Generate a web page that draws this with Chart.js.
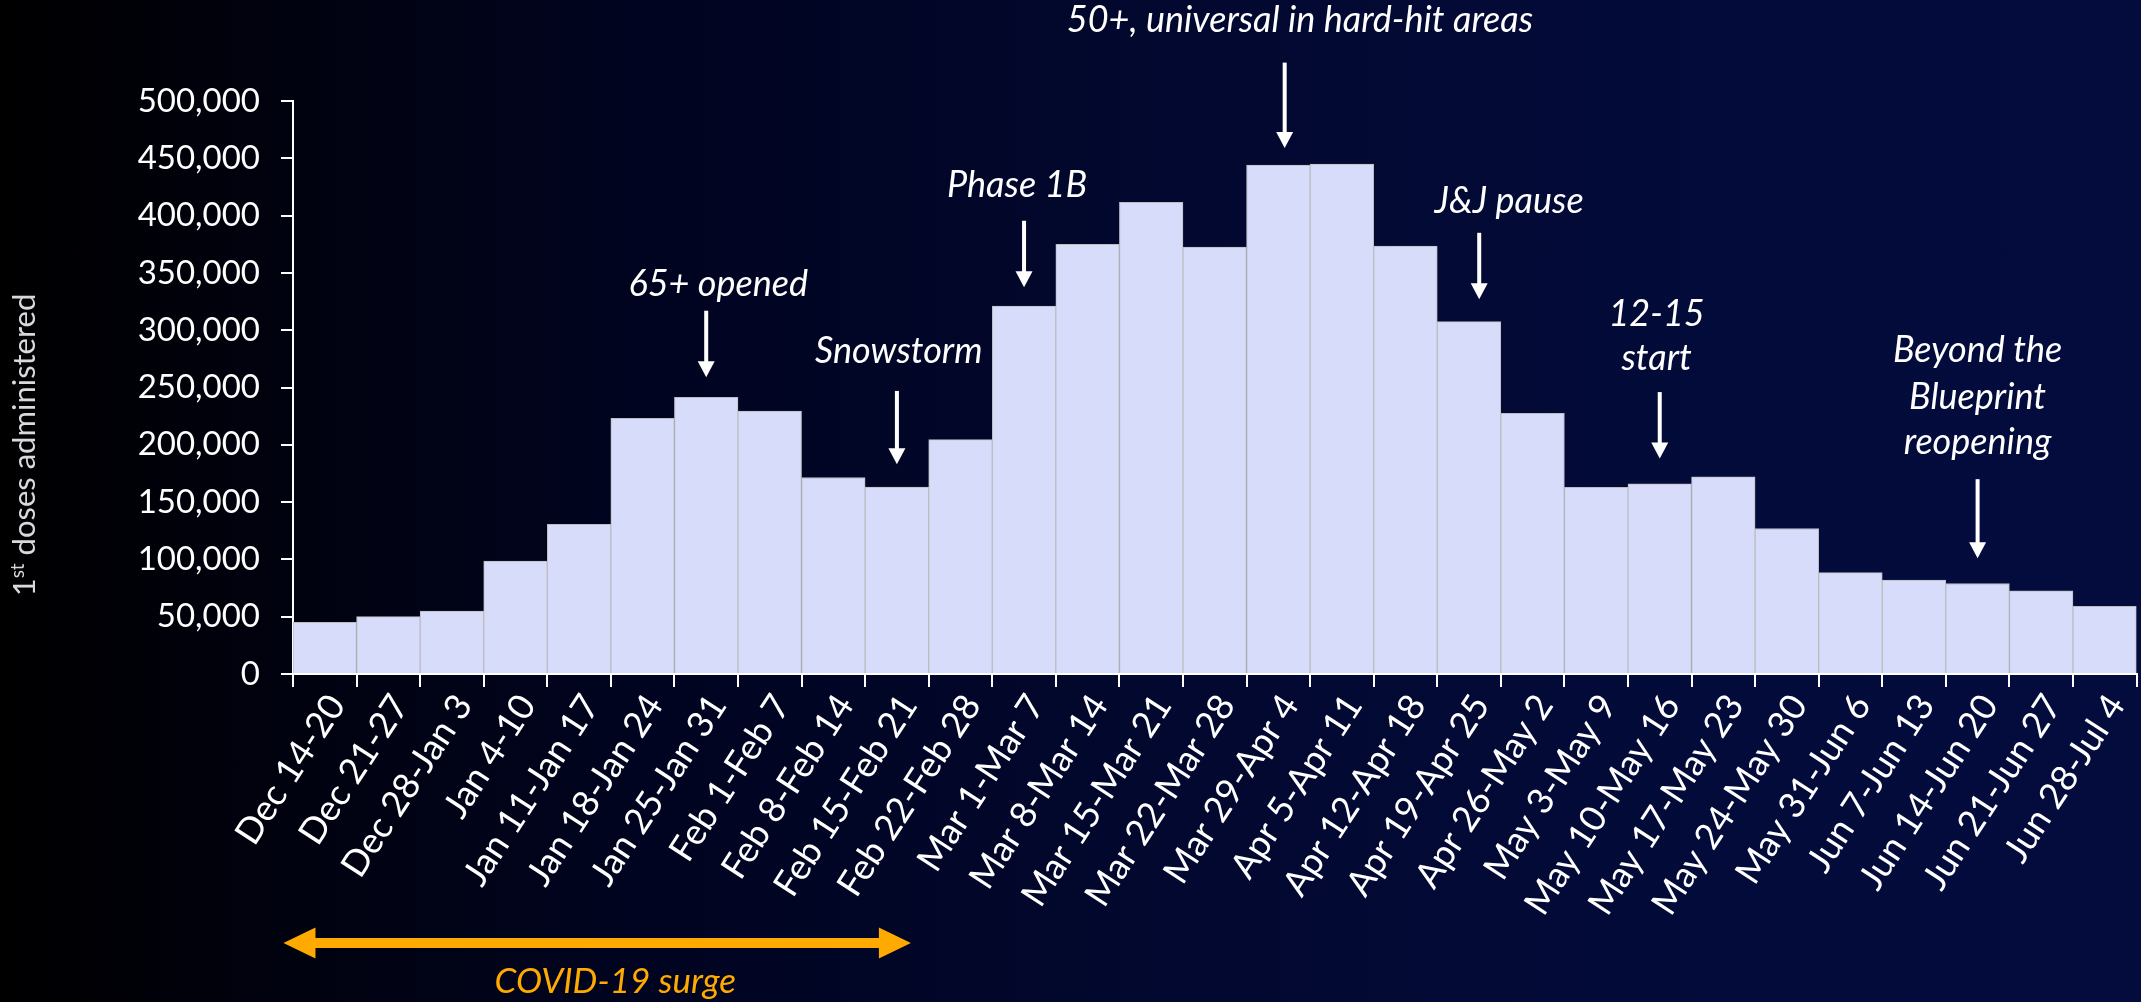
<!DOCTYPE html>
<html><head><meta charset="utf-8">
<script src="https://cdn.jsdelivr.net/npm/chart.js@4.4.1/dist/chart.umd.min.js"></script>
<style>
html,body{margin:0;padding:0;background:#000;}
#wrap{position:relative;width:2141px;height:1002px;background:linear-gradient(90deg,#000001 0%,#010420 30%,#02082f 55%,#030b3a 80%,#030c3d 100%);}
canvas{display:block}
</style></head><body>
<div id="wrap"><canvas id="c"></canvas></div>
<script>
// ---- data ----
const weeks = ['Dec 14-20','Dec 21-27','Dec 28-Jan 3','Jan 4-10','Jan 11-Jan 17','Jan 18-Jan 24','Jan 25-Jan 31',
  'Feb 1-Feb 7','Feb 8-Feb 14','Feb 15-Feb 21','Feb 22-Feb 28','Mar 1-Mar 7','Mar 8-Mar 14','Mar 15-Mar 21',
  'Mar 22-Mar 28','Mar 29-Apr 4','Apr 5-Apr 11','Apr 12-Apr 18','Apr 19-Apr 25','Apr 26-May 2','May 3-May 9',
  'May 10-May 16','May 17-May 23','May 24-May 30','May 31-Jun 6','Jun 7-Jun 13','Jun 14-Jun 20','Jun 21-Jun 27','Jun 28-Jul 4'];
const firstDoses = [45000,50000,55000,98500,130500,223000,241500,229500,171500,163000,204500,321000,375000,411500,
  372500,444000,445000,373500,307500,227500,162800,166000,172000,127000,88500,82000,79000,72500,59000];
const yTicks = [0,50000,100000,150000,200000,250000,300000,350000,400000,450000,500000];
const yTitle = ['1','st',' doses administered'];
// annotation labels: category index of arrow/text, arrow top & tip values, text line values
const noteText = [['65+ opened'],['Snowstorm'],['Phase 1B'],['50+, universal in hard-hit areas'],['J&J pause'],['12-15','start'],['Beyond the','Blueprint','reopening']];
const noteAt   = [6, 9, 11, 15.1, 18.16, 21, 26];
const noteTextAt = [6.19, 9.03, 10.89, 15.34, 18.63, 20.95, 26];
const noteTop  = [317000, 247000, 395500, 533500, 385000, 246000, 170000];
const noteTip  = [259000, 183000, 337500, 459000, 327000, 188000, 101000];
const noteY    = [[340000],[281500],[426000],[570000],[412000],[314000,275000],[282000,241700,202000]];
const surgeLabel = 'COVID-19 surge';
const surgeFrom = -0.65, surgeTo = 9.22, surgeTextAt = 4.57;

// ---- plugins ----
const FONT = 'Lato, "Open Sans", sans-serif';
const yTitlePlugin = {
  id:'yTitle',
  afterDraw(chart){
    const ctx = chart.ctx; ctx.save();
    const big = '31px ' + FONT, small = '19px ' + FONT;
    ctx.font = big; const w1 = ctx.measureText(yTitle[0]).width, w3 = ctx.measureText(yTitle[2]).width;
    ctx.font = small; const w2 = ctx.measureText(yTitle[1]).width;
    const total = w1 + w2 + w3;
    ctx.translate(24, 445); ctx.rotate(-Math.PI/2);
    ctx.fillStyle = '#d9d9d9'; ctx.textBaseline = 'alphabetic'; ctx.textAlign = 'left';
    let x = -total/2; const base = 11;
    ctx.font = big; ctx.fillText(yTitle[0], x, base); x += w1;
    ctx.font = small; ctx.fillText(yTitle[1], x, base - 11); x += w2;
    ctx.font = big; ctx.fillText(yTitle[2], x, base);
    ctx.restore();
  }
};
const notesPlugin = {
  id:'notes',
  afterDraw(chart){
    const ctx = chart.ctx, xs = chart.scales.x, ys = chart.scales.y;
    ctx.save();
    ctx.fillStyle = '#ffffff'; ctx.strokeStyle = '#ffffff';
    noteText.forEach((lines, i) => {
      const x = xs.getPixelForValue(noteAt[i]);
      const yTop = ys.getPixelForValue(noteTop[i]);
      const yTip = ys.getPixelForValue(noteTip[i]);
      const head = 16, hw = 8.5;
      ctx.fillRect(x - 2, yTop, 4, yTip - head - yTop + 1);
      ctx.beginPath(); ctx.moveTo(x - hw, yTip - head); ctx.lineTo(x + hw, yTip - head); ctx.lineTo(x, yTip); ctx.closePath(); ctx.fill();
      ctx.font = 'italic 36px ' + FONT; ctx.textAlign = 'center'; ctx.textBaseline = 'middle';
      const tx = xs.getPixelForValue(noteTextAt[i]);
      lines.forEach((t, j) => ctx.fillText(t, tx, ys.getPixelForValue(noteY[i][j])));
    });
    // COVID-19 surge double arrow
    const ca = chart.chartArea;
    const x0 = xs.getPixelForValue(surgeFrom), x1 = xs.getPixelForValue(surgeTo);
    const yc = ca.bottom + 269, hl = 32, hh = 15.5, sh = 5;
    ctx.fillStyle = '#ffaa00';
    ctx.beginPath();
    ctx.moveTo(x0, yc); ctx.lineTo(x0 + hl, yc - hh); ctx.lineTo(x0 + hl, yc - sh);
    ctx.lineTo(x1 - hl, yc - sh); ctx.lineTo(x1 - hl, yc - hh); ctx.lineTo(x1, yc);
    ctx.lineTo(x1 - hl, yc + hh); ctx.lineTo(x1 - hl, yc + sh); ctx.lineTo(x0 + hl, yc + sh);
    ctx.lineTo(x0 + hl, yc + hh); ctx.closePath(); ctx.fill();
    ctx.font = 'italic 35px ' + FONT; ctx.textAlign = 'center'; ctx.textBaseline = 'alphabetic';
    ctx.fillText(surgeLabel, xs.getPixelForValue(surgeTextAt), ca.bottom + 319);
    ctx.restore();
  }
};

new Chart(document.getElementById('c'), {
  type:'bar',
  data:{ labels: weeks, datasets:[{ data:firstDoses, backgroundColor:'#d7dcfb', borderColor:'#bdbdbd', borderWidth:1,
    categoryPercentage:1, barPercentage:1 }]},
  options:{
    responsive:true, maintainAspectRatio:false, animation:false, devicePixelRatio:1,
    layout:{ padding:{ top:101, left:0, right:2, bottom:0 } },
    plugins:{ legend:{display:false}, tooltip:{enabled:false} },
    scales:{
      x:{ z:1, offset:true,
        grid:{ display:true, offset:true, drawOnChartArea:false, drawTicks:true, tickLength:13, color:'#ffffff', lineWidth:2 },
        border:{ display:true, color:'#ffffff', width:2 },
        ticks:{ color:'#ffffff', font:{ family:FONT, size:36 }, minRotation:57, maxRotation:57, autoSkip:false, padding:0, labelOffset:12 },
        afterFit(s){ s.height = 328; } },
      y:{ z:1, min:0, max:500000,
        grid:{ drawOnChartArea:false, drawTicks:true, tickLength:12, color:'#ffffff', lineWidth:2 },
        border:{ display:true, color:'#ffffff', width:2 },
        ticks:{ color:'#ffffff', font:{ family:FONT, size:33 }, padding:21, callback:v => v.toLocaleString('en-US') },
        afterBuildTicks(s){ s.ticks = yTicks.map(v => ({ value:v })); },
        afterFit(s){ s.width = 293; } }
    }
  },
  plugins:[yTitlePlugin, notesPlugin]
});
</script>
</body></html>
